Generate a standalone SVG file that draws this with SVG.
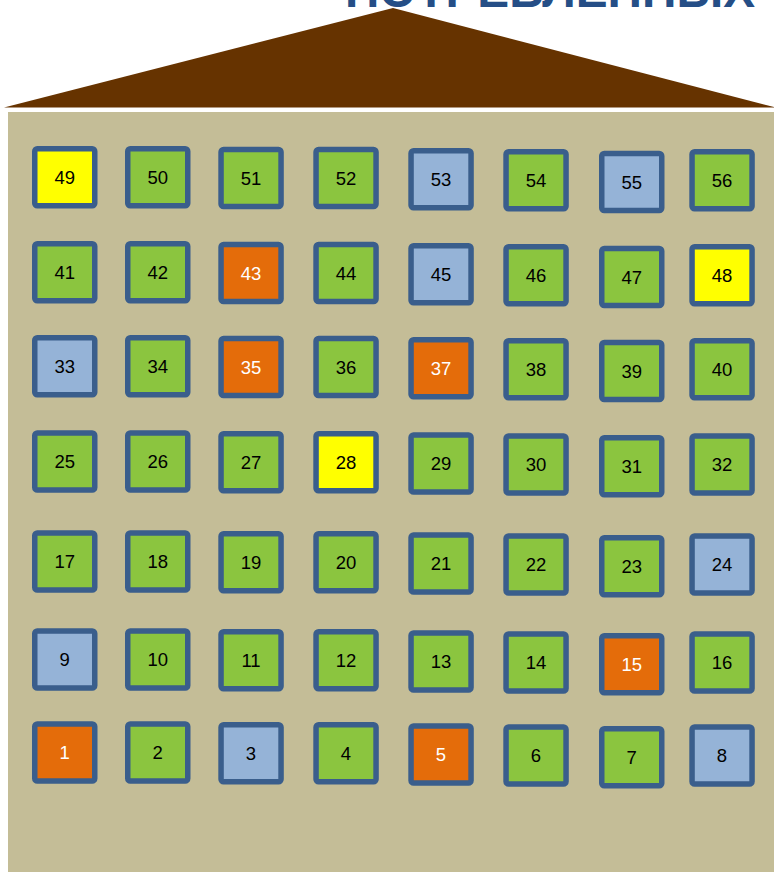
<svg xmlns="http://www.w3.org/2000/svg" width="774" height="872" viewBox="0 0 774 872">
<style>
.b rect{stroke:#3A5E8C;stroke-width:5.5;}
.b text{font-family:"Liberation Sans",Arial,sans-serif;font-size:18.5px;text-anchor:middle;fill:#000;}
.g rect{fill:#8BC53F;}
.l rect{fill:#95B3D7;}
.o rect{fill:#E46C0A;}
.o text{fill:#fff;}
.y rect{fill:#FFFF00;}
.title{font-family:"Liberation Sans",Arial,sans-serif;font-weight:bold;font-size:48px;fill:#254E86;}
</style>
<rect x="0" y="0" width="774" height="872" fill="#fff"/>
<text class="title" x="345" y="6.5" textLength="410" lengthAdjust="spacingAndGlyphs">ПОТРЕБЛЕННЫХ</text>
<polygon points="4,107.5 393,8 774,107 774,107.5" fill="#663300"/>
<rect x="8" y="112" width="766" height="760" fill="#C4BD97"/>
<g id="connectors"/>
<g id="nodes">
<g id="n49" class="b y" transform="translate(32,146)"><rect x="2.75" y="2.75" width="60" height="57" rx="2.5"/><text x="32.7" y="38">49</text></g>
<g id="n50" class="b g" transform="translate(125,146)"><rect x="2.75" y="2.75" width="60" height="57" rx="2.5"/><text x="32.7" y="38">50</text></g>
<g id="n51" class="b g" transform="translate(218.3,146.7)"><rect x="2.75" y="2.75" width="60" height="57" rx="2.5"/><text x="32.7" y="38">51</text></g>
<g id="n52" class="b g" transform="translate(313.3,146.7)"><rect x="2.75" y="2.75" width="60" height="57" rx="2.5"/><text x="32.7" y="38">52</text></g>
<g id="n53" class="b l" transform="translate(408.3,148)"><rect x="2.75" y="2.75" width="60" height="57" rx="2.5"/><text x="32.7" y="38">53</text></g>
<g id="n54" class="b g" transform="translate(503.3,149)"><rect x="2.75" y="2.75" width="60" height="57" rx="2.5"/><text x="32.7" y="38">54</text></g>
<g id="n55" class="b l" transform="translate(599,150.7)"><rect x="2.75" y="2.75" width="60" height="57" rx="2.5"/><text x="32.7" y="38">55</text></g>
<g id="n56" class="b g" transform="translate(689.3,149)"><rect x="2.75" y="2.75" width="60" height="57" rx="2.5"/><text x="32.7" y="38">56</text></g>

<g id="n41" class="b g" transform="translate(32,241)"><rect x="2.75" y="2.75" width="60" height="57" rx="2.5"/><text x="32.7" y="38">41</text></g>
<g id="n42" class="b g" transform="translate(125,241)"><rect x="2.75" y="2.75" width="60" height="57" rx="2.5"/><text x="32.7" y="38">42</text></g>
<g id="n43" class="b o" transform="translate(218.3,241.7)"><rect x="2.75" y="2.75" width="60" height="57" rx="2.5"/><text x="32.7" y="38">43</text></g>
<g id="n44" class="b g" transform="translate(313.3,241.7)"><rect x="2.75" y="2.75" width="60" height="57" rx="2.5"/><text x="32.7" y="38">44</text></g>
<g id="n45" class="b l" transform="translate(408.3,243)"><rect x="2.75" y="2.75" width="60" height="57" rx="2.5"/><text x="32.7" y="38">45</text></g>
<g id="n46" class="b g" transform="translate(503.3,244)"><rect x="2.75" y="2.75" width="60" height="57" rx="2.5"/><text x="32.7" y="38">46</text></g>
<g id="n47" class="b g" transform="translate(599,245.7)"><rect x="2.75" y="2.75" width="60" height="57" rx="2.5"/><text x="32.7" y="38">47</text></g>
<g id="n48" class="b y" transform="translate(689.3,244)"><rect x="2.75" y="2.75" width="60" height="57" rx="2.5"/><text x="32.7" y="38">48</text></g>

<g id="n33" class="b l" transform="translate(32,335)"><rect x="2.75" y="2.75" width="60" height="57" rx="2.5"/><text x="32.7" y="38">33</text></g>
<g id="n34" class="b g" transform="translate(125,335)"><rect x="2.75" y="2.75" width="60" height="57" rx="2.5"/><text x="32.7" y="38">34</text></g>
<g id="n35" class="b o" transform="translate(218.3,335.7)"><rect x="2.75" y="2.75" width="60" height="57" rx="2.5"/><text x="32.7" y="38">35</text></g>
<g id="n36" class="b g" transform="translate(313.3,335.7)"><rect x="2.75" y="2.75" width="60" height="57" rx="2.5"/><text x="32.7" y="38">36</text></g>
<g id="n37" class="b o" transform="translate(408.3,337)"><rect x="2.75" y="2.75" width="60" height="57" rx="2.5"/><text x="32.7" y="38">37</text></g>
<g id="n38" class="b g" transform="translate(503.3,338)"><rect x="2.75" y="2.75" width="60" height="57" rx="2.5"/><text x="32.7" y="38">38</text></g>
<g id="n39" class="b g" transform="translate(599,339.7)"><rect x="2.75" y="2.75" width="60" height="57" rx="2.5"/><text x="32.7" y="38">39</text></g>
<g id="n40" class="b g" transform="translate(689.3,338)"><rect x="2.75" y="2.75" width="60" height="57" rx="2.5"/><text x="32.7" y="38">40</text></g>

<g id="n25" class="b g" transform="translate(32,430.3)"><rect x="2.75" y="2.75" width="60" height="57" rx="2.5"/><text x="32.7" y="38">25</text></g>
<g id="n26" class="b g" transform="translate(125,430.3)"><rect x="2.75" y="2.75" width="60" height="57" rx="2.5"/><text x="32.7" y="38">26</text></g>
<g id="n27" class="b g" transform="translate(218.3,431)"><rect x="2.75" y="2.75" width="60" height="57" rx="2.5"/><text x="32.7" y="38">27</text></g>
<g id="n28" class="b y" transform="translate(313.3,431)"><rect x="2.75" y="2.75" width="60" height="57" rx="2.5"/><text x="32.7" y="38">28</text></g>
<g id="n29" class="b g" transform="translate(408.3,432.3)"><rect x="2.75" y="2.75" width="60" height="57" rx="2.5"/><text x="32.7" y="38">29</text></g>
<g id="n30" class="b g" transform="translate(503.3,433.3)"><rect x="2.75" y="2.75" width="60" height="57" rx="2.5"/><text x="32.7" y="38">30</text></g>
<g id="n31" class="b g" transform="translate(599,435)"><rect x="2.75" y="2.75" width="60" height="57" rx="2.5"/><text x="32.7" y="38">31</text></g>
<g id="n32" class="b g" transform="translate(689.3,433.3)"><rect x="2.75" y="2.75" width="60" height="57" rx="2.5"/><text x="32.7" y="38">32</text></g>

<g id="n17" class="b g" transform="translate(32,530.3)"><rect x="2.75" y="2.75" width="60" height="57" rx="2.5"/><text x="32.7" y="38">17</text></g>
<g id="n18" class="b g" transform="translate(125,530.3)"><rect x="2.75" y="2.75" width="60" height="57" rx="2.5"/><text x="32.7" y="38">18</text></g>
<g id="n19" class="b g" transform="translate(218.3,531)"><rect x="2.75" y="2.75" width="60" height="57" rx="2.5"/><text x="32.7" y="38">19</text></g>
<g id="n20" class="b g" transform="translate(313.3,531)"><rect x="2.75" y="2.75" width="60" height="57" rx="2.5"/><text x="32.7" y="38">20</text></g>
<g id="n21" class="b g" transform="translate(408.3,532.3)"><rect x="2.75" y="2.75" width="60" height="57" rx="2.5"/><text x="32.7" y="38">21</text></g>
<g id="n22" class="b g" transform="translate(503.3,533.3)"><rect x="2.75" y="2.75" width="60" height="57" rx="2.5"/><text x="32.7" y="38">22</text></g>
<g id="n23" class="b g" transform="translate(599,535)"><rect x="2.75" y="2.75" width="60" height="57" rx="2.5"/><text x="32.7" y="38">23</text></g>
<g id="n24" class="b l" transform="translate(689.3,533.3)"><rect x="2.75" y="2.75" width="60" height="57" rx="2.5"/><text x="32.7" y="38">24</text></g>

<g id="n9" class="b l" transform="translate(32,628.3)"><rect x="2.75" y="2.75" width="60" height="57" rx="2.5"/><text x="32.7" y="38">9</text></g>
<g id="n10" class="b g" transform="translate(125,628.3)"><rect x="2.75" y="2.75" width="60" height="57" rx="2.5"/><text x="32.7" y="38">10</text></g>
<g id="n11" class="b g" transform="translate(218.3,629)"><rect x="2.75" y="2.75" width="60" height="57" rx="2.5"/><text x="32.7" y="38">11</text></g>
<g id="n12" class="b g" transform="translate(313.3,629)"><rect x="2.75" y="2.75" width="60" height="57" rx="2.5"/><text x="32.7" y="38">12</text></g>
<g id="n13" class="b g" transform="translate(408.3,630.3)"><rect x="2.75" y="2.75" width="60" height="57" rx="2.5"/><text x="32.7" y="38">13</text></g>
<g id="n14" class="b g" transform="translate(503.3,631.3)"><rect x="2.75" y="2.75" width="60" height="57" rx="2.5"/><text x="32.7" y="38">14</text></g>
<g id="n15" class="b o" transform="translate(599,633)"><rect x="2.75" y="2.75" width="60" height="57" rx="2.5"/><text x="32.7" y="38">15</text></g>
<g id="n16" class="b g" transform="translate(689.3,631.3)"><rect x="2.75" y="2.75" width="60" height="57" rx="2.5"/><text x="32.7" y="38">16</text></g>

<g id="n1" class="b o" transform="translate(32,721.3)"><rect x="2.75" y="2.75" width="60" height="57" rx="2.5"/><text x="32.7" y="38">1</text></g>
<g id="n2" class="b g" transform="translate(125,721.3)"><rect x="2.75" y="2.75" width="60" height="57" rx="2.5"/><text x="32.7" y="38">2</text></g>
<g id="n3" class="b l" transform="translate(218.3,722)"><rect x="2.75" y="2.75" width="60" height="57" rx="2.5"/><text x="32.7" y="38">3</text></g>
<g id="n4" class="b g" transform="translate(313.3,722)"><rect x="2.75" y="2.75" width="60" height="57" rx="2.5"/><text x="32.7" y="38">4</text></g>
<g id="n5" class="b o" transform="translate(408.3,723.3)"><rect x="2.75" y="2.75" width="60" height="57" rx="2.5"/><text x="32.7" y="38">5</text></g>
<g id="n6" class="b g" transform="translate(503.3,724.3)"><rect x="2.75" y="2.75" width="60" height="57" rx="2.5"/><text x="32.7" y="38">6</text></g>
<g id="n7" class="b g" transform="translate(599,726)"><rect x="2.75" y="2.75" width="60" height="57" rx="2.5"/><text x="32.7" y="38">7</text></g>
<g id="n8" class="b l" transform="translate(689.3,724.3)"><rect x="2.75" y="2.75" width="60" height="57" rx="2.5"/><text x="32.7" y="38">8</text></g>
</g>
</svg>
